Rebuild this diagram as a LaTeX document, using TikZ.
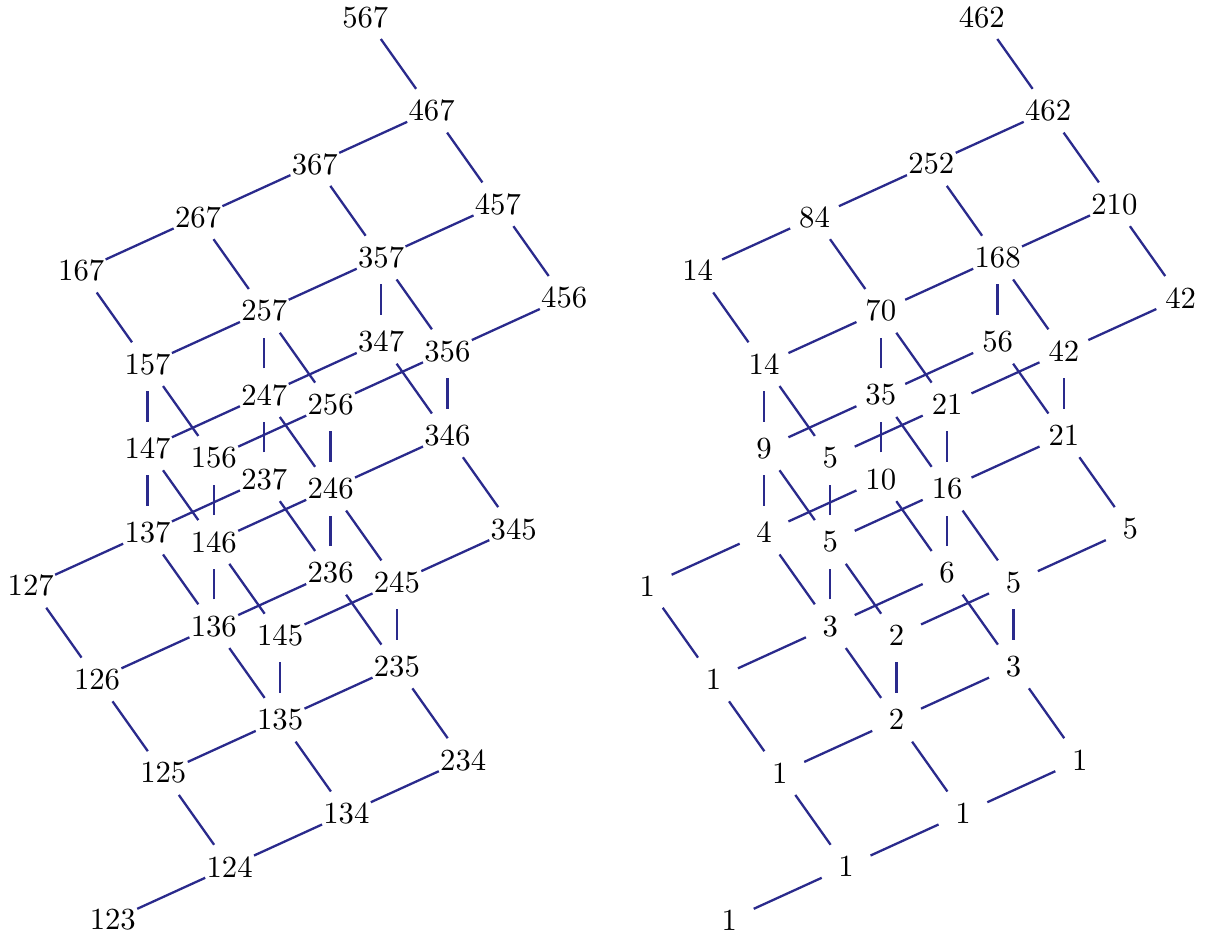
\documentclass[tikz,border=0pt]{standalone}
\usetikzlibrary{arrows.meta,positioning,calc}
\definecolor{LatBlue}{RGB}{42,42,140}

\begin{document}
\begin{tikzpicture}[x={(1.3375cm,0.6103cm)},y={(-0.7592cm,1.0718cm)},z={(0cm,0.9642cm)},
  lab/.style={circle,inner sep=0pt,minimum size=.6cm},
  edge/.style={LatBlue,line width=.75pt}]
\useasboundingbox (-1.292cm,-0.183cm) rectangle (12.553cm,10.535cm);
% subsets on the left, counts on the right
\foreach \s/\a/\b/\c/\n in {123/0/0/0/1,124/1/0/0/1,125/1/1/0/1,126/1/2/0/1,127/1/3/0/1,
  134/2/0/0/1,135/2/1/0/2,136/2/2/0/3,137/2/3/0/4,145/2/1/1/2,146/2/2/1/5,147/2/3/1/9,
  156/2/2/2/5,157/2/3/2/14,167/2/4/2/14,234/3/0/0/1,235/3/1/0/3,236/3/2/0/6,237/3/3/0/10,
  245/3/1/1/5,246/3/2/1/16,247/3/3/1/35,256/3/2/2/21,257/3/3/2/70,267/3/4/2/84,
  345/4/1/1/5,346/4/2/1/21,347/4/3/1/56,356/4/2/2/42,357/4/3/2/168,367/4/4/2/252,
  456/5/2/2/42,457/5/3/2/210,467/5/4/2/462,567/5/5/2/462}{
  \node[lab] (l\s) at (\a,\b,\c) {\s};
  \node[lab,xshift=7.06cm] (r\s) at (\a,\b,\c) {\n};
}
\foreach \p/\q in {123/124,124/125,124/134,125/126,125/135,126/127,126/136,127/137,
  134/135,134/234,135/136,135/145,135/235,136/137,136/146,136/236,137/147,137/237,
  145/146,145/245,146/147,146/156,146/246,147/157,147/247,156/157,156/256,
  157/167,157/257,167/267,234/235,235/236,235/245,236/237,236/246,237/247,
  245/246,245/345,246/247,246/256,246/346,247/257,247/347,256/257,256/356,
  257/267,257/357,267/367,345/346,346/347,346/356,347/357,356/357,356/456,
  357/367,357/457,367/467,456/457,457/467,467/567}{
  \draw[edge] (l\p) -- (l\q);
  \draw[edge] (r\p) -- (r\q);
}
\end{tikzpicture}
\end{document}
